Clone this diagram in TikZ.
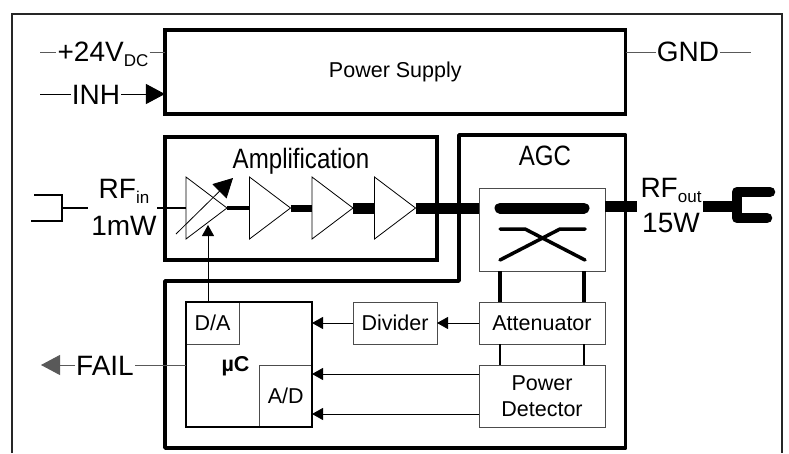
\documentclass[tikz,border=0pt]{standalone}
\usepackage{fontspec}
\setmainfont{Liberation Sans}
\usetikzlibrary{arrows.meta, shapes.geometric}

\newcommand{\lowsub}[1]{\raisebox{-5pt}{\fontsize{17}{17}\selectfont #1}}

\begin{document}
\begin{tikzpicture}[x=1pt, y=-1pt,
biglabel/.style={font=\fontsize{28}{28}\selectfont, inner sep=1pt, anchor=base},
heavybox/.style={draw, line width=3.5pt, minimum width=#1, outer sep=0pt},
thinbox/.style={draw=black!70, line width=1pt, fill=white, font=\fontsize{21.5}{26}\selectfont, align=center, inner sep=0pt, outer sep=0pt},
amp/.style={draw, line width=0.8pt, fill=white, isosceles triangle, isosceles triangle stretches, minimum width=62pt, minimum height=41pt, inner sep=0pt, outer sep=0pt, anchor=lower side},
wire/.style={draw=black!65, line width=1pt},
bigtip/.style={-{Triangle[length=19pt, width=20pt]}, draw=black!65, line width=1pt},
smalltip/.style={-{Triangle[length=11pt, width=12pt]}, line width=0.8pt}]
\useasboundingbox (0,0) rectangle (789,453);

% frame, open at the bottom
\draw[line width=1.5pt, black!85] (12,453) -- (12,14) -- (782,14) -- (782,453);

% big blocks
\node [heavybox=460.7pt, minimum height=84pt, font=\fontsize{21.5}{26}\selectfont] (psu) at (395.3,72) {Power Supply};
\node [heavybox=272pt, minimum height=123pt] (ampblock) at (301,198.5) {};
\draw[line width=3.5pt, line join=round] (459,135) -- (625.7,135) -- (625.7,448) -- (165,448) -- (165,281) -- (459,281) -- cycle;
\node [biglabel] (amplabel) at (301,168) {\scalebox{.86}[1]{Amplification}};
\node [biglabel] (agclabel) at (545,165.5) {\scalebox{.86}[1]{AGC}};

% amplifier chain
\node [amp] (amp1) at (186,208) {};
\node [amp] (amp2) at (249.5,208) {};
\node [amp] (amp3) at (312,208) {};
\node [amp] (amp4) at (374.5,208) {};
\node [thinbox, minimum width=126pt, minimum height=83pt] (coupler) at (542,229.5) {};
\draw[line width=4pt] (amp1.apex) -- (amp2.lower side);
\draw[line width=7pt] (amp2.apex) -- (amp3.lower side);
\draw[line width=11pt] (amp3.apex) -- (amp4.lower side);
\draw[line width=11pt] (amp4.apex) -- (coupler.west |- amp4.apex);

% coupler inside
\draw[line width=11pt, line cap=round] (500,208) -- (584,208);
\draw[line width=3.5pt, line cap=round, line join=round] (500,229) -- (525,229) -- (585,260);
\draw[line width=3.5pt, line cap=round, line join=round] (585,229) -- (560,229) -- (500,260);

% input
\coordinate (intop) at (34,195);
\coordinate (inbot) at (31,221);
\coordinate (instem) at (62,208);
\node [biglabel] (rfin) at (124,198) {RF\lowsub{in}};
\node [biglabel] (inpower) at (124,235) {1mW};
\draw[line width=1.5pt, line join=miter] (intop) -- (intop -| instem) -- (inbot -| instem) -- (inbot);
\draw[line width=2pt] (instem) -- (88,208);
\draw[line width=2pt] (157,208) -- (amp1.lower side);

% output
\node [biglabel] (rfout) at (671,197) {RF\lowsub{out}};
\node [biglabel] (outpower) at (671,232) {15W};
\coordinate (plug) at (737,206);
\draw[line width=11pt] (coupler.east |- plug) -- (637,206);
\draw[line width=11pt] (703,206) -- (plug);
\draw[line width=10.5pt, line cap=round, line join=round] (770,192) -- (737,192) -- (737,218) -- (767,218);

% supply pins
\coordinate (vdcin) at (40,52);
\coordinate (inhin) at (40,94);
\coordinate (gndout) at (751,52);
\node [biglabel] (vdc) at (103,61) {+24V\lowsub{DC}};
\node [biglabel] (inh) at (96,104) {INH};
\node [biglabel] (gnd) at (688,61) {GND};
\draw[wire] (vdcin) -- (vdcin -| vdc.west);
\draw[wire] (vdcin -| vdc.east) -- (vdcin -| psu.west);
\draw[wire, draw=black] (inhin) -- (inhin -| inh.west);
\draw[bigtip, draw=black] (inhin -| inh.east) -- (inhin -| psu.west);
\draw[wire] (gndout -| psu.east) -- (gndout -| gnd.west);
\draw[wire] (gndout -| gnd.east) -- (gndout);

% micro controller
\node [draw, line width=2.5pt, minimum width=126pt, minimum height=125pt, outer sep=0pt, inner sep=0pt] (uc) at (249,364.5) {};
\node [thinbox, minimum width=53pt, minimum height=42pt, fill=none, anchor=north west] (da) at (uc.north west) {D/A};
\node [thinbox, minimum width=52.5pt, minimum height=62pt, fill=none, anchor=south east] (ad) at (uc.south east) {A/D};
\node [font=\fontsize{21.5}{26}\selectfont\bfseries, inner sep=0pt] (uclabel) at (235.5,366) {µC};
\draw[line width=2.5pt] (uc.north west) rectangle (uc.south east);

% feedback path
\node [thinbox, minimum width=84pt, minimum height=42pt] (divider) at (395,323) {Divider};
\node [thinbox, minimum width=126pt, minimum height=42pt] (atten) at (542,323) {Attenuator};
\node [thinbox, minimum width=126pt, minimum height=62pt] (detector) at (542,396) {Power\\Detector};
\draw[line width=4pt] ([xshift=-42pt]atten.north) -- ([xshift=-42pt]coupler.south) ++(0,-3);
\draw[line width=4pt] ([xshift=42pt]atten.north) -- ([xshift=42pt]coupler.south) ++(0,-3);
\draw[line width=2.5pt] ([xshift=-42pt]atten.south) -- ([xshift=-42pt]detector.north);
\draw[line width=2.5pt] ([xshift=42pt]atten.south) -- ([xshift=42pt]detector.north);
\draw[smalltip] (atten.west) -- (divider.east);
\draw[smalltip] (divider.west) -- (uc.east |- divider.west);
\draw[smalltip] ([yshift=-9pt]detector.west) ++(0,9) -- ++(-167,0);
\draw[smalltip] ([yshift=22pt]detector.west) -- ++(-167,0);

% gain control
\coordinate (gainslope) at (176,234);
\coordinate (gaintip) at (233,178);
\draw[-{Triangle[length=19pt, width=20pt]}, line width=0.8pt] (gainslope) -- (gaintip);
\coordinate (gainin) at (208,225);
\draw[-{Triangle[length=11pt, width=12pt]}, line width=0.8pt] (da.north -| gainin) -- (gainin);

% fail output
\node [biglabel] (fail) at (105,375) {FAIL};
\coordinate (failtip) at (41,365);
\draw[wire] (uc.west |- failtip) -- (failtip -| fail.east);
\draw[bigtip] (failtip -| fail.west) -- (failtip);
\end{tikzpicture}
\end{document}
